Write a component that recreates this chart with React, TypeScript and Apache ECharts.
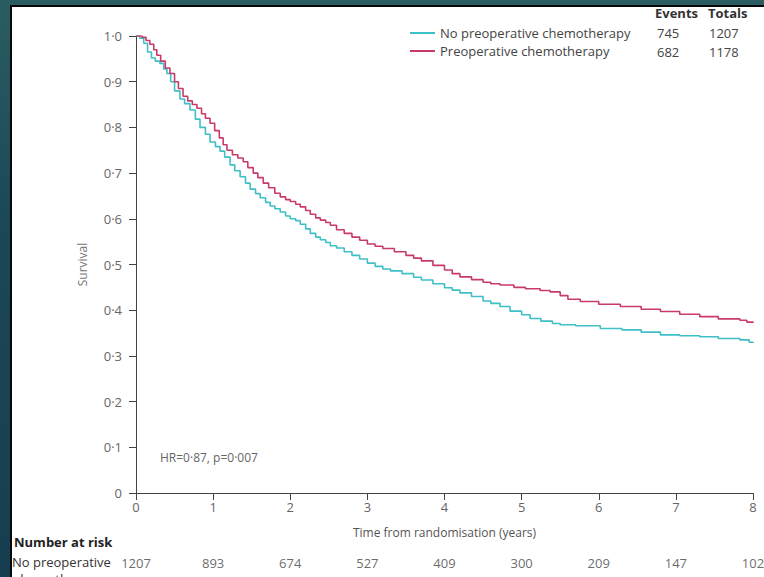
import React, { useEffect, useRef } from "react";
import * as echarts from "echarts";

const seriesNames = ["No preoperative chemotherapy", "Preoperative chemotherapy"];
const seriesColors = ["#3fbfc6", "#c93a6c"];
const eventsCol = ["745", "682"];
const totalsCol = ["1207", "1178"];

// Kaplan-Meier curves: [years, survival]
const noPreop: [number, number][] = [
  [0, 1.0], [0.05, 0.995], [0.1, 0.984], [0.15, 0.965], [0.2, 0.952], [0.25, 0.945], [0.31, 0.94],
  [0.36, 0.928], [0.4, 0.918], [0.45, 0.9], [0.5, 0.88], [0.57, 0.862], [0.63, 0.852], [0.7, 0.838],
  [0.77, 0.818], [0.83, 0.8], [0.9, 0.785], [0.96, 0.768], [1.03, 0.758], [1.09, 0.748], [1.15, 0.735],
  [1.22, 0.718], [1.28, 0.705], [1.35, 0.692], [1.42, 0.678], [1.48, 0.665], [1.55, 0.655], [1.61, 0.646],
  [1.68, 0.636], [1.74, 0.628], [1.8, 0.622], [1.87, 0.615], [1.94, 0.606], [2.0, 0.6], [2.07, 0.596],
  [2.13, 0.588], [2.2, 0.578], [2.26, 0.568], [2.33, 0.56], [2.39, 0.554], [2.46, 0.548], [2.52, 0.541],
  [2.6, 0.536], [2.7, 0.528], [2.8, 0.52], [2.9, 0.512], [3.0, 0.503], [3.1, 0.496], [3.2, 0.49],
  [3.3, 0.486], [3.45, 0.48], [3.6, 0.472], [3.7, 0.466], [3.85, 0.458], [4.0, 0.449], [4.1, 0.444],
  [4.2, 0.438], [4.35, 0.43], [4.5, 0.42], [4.6, 0.415], [4.72, 0.408], [4.85, 0.398], [5.0, 0.39],
  [5.11, 0.382], [5.25, 0.376], [5.4, 0.371], [5.5, 0.368], [5.7, 0.366], [6.02, 0.36], [6.3, 0.357],
  [6.55, 0.352], [6.8, 0.346], [7.05, 0.344], [7.31, 0.342], [7.55, 0.338], [7.83, 0.335], [7.95, 0.33],
  [8.0, 0.328],
];

const preop: [number, number][] = [
  [0, 1.0], [0.08, 0.997], [0.13, 0.99], [0.18, 0.982], [0.23, 0.97], [0.27, 0.958], [0.32, 0.945],
  [0.38, 0.93], [0.44, 0.918], [0.5, 0.9], [0.55, 0.885], [0.61, 0.868], [0.67, 0.858], [0.73, 0.85],
  [0.79, 0.842], [0.85, 0.83], [0.9, 0.82], [0.96, 0.809], [1.02, 0.793], [1.08, 0.777], [1.13, 0.762],
  [1.18, 0.75], [1.25, 0.74], [1.32, 0.733], [1.39, 0.725], [1.45, 0.712], [1.52, 0.7], [1.58, 0.69],
  [1.65, 0.678], [1.72, 0.668], [1.8, 0.656], [1.87, 0.648], [1.94, 0.642], [2.0, 0.638], [2.07, 0.632],
  [2.13, 0.626], [2.2, 0.618], [2.26, 0.61], [2.33, 0.602], [2.39, 0.597], [2.46, 0.592], [2.52, 0.586],
  [2.6, 0.576], [2.7, 0.568], [2.8, 0.56], [2.9, 0.553], [3.0, 0.545], [3.1, 0.54], [3.2, 0.535],
  [3.35, 0.528], [3.5, 0.52], [3.6, 0.514], [3.7, 0.508], [3.85, 0.498], [4.0, 0.488], [4.1, 0.48],
  [4.2, 0.473], [4.35, 0.467], [4.5, 0.461], [4.6, 0.458], [4.72, 0.455], [4.9, 0.45], [5.05, 0.447],
  [5.24, 0.443], [5.37, 0.44], [5.5, 0.432], [5.6, 0.424], [5.76, 0.419], [6.0, 0.413], [6.28, 0.408],
  [6.55, 0.402], [6.8, 0.397], [7.05, 0.391], [7.31, 0.386], [7.55, 0.381], [7.83, 0.378], [7.92, 0.374],
  [8.0, 0.372],
];

const riskYears = [0, 1, 2, 3, 4, 5, 6, 7, 8];
const riskNoPreop = [1207, 893, 674, 527, 409, 300, 209, 147, 102];

const FONT = "Open Sans";

export default function App() {
  const ref = useRef<HTMLDivElement>(null);

  useEffect(() => {
    if (!ref.current) return;
    const chart = echarts.init(ref.current, undefined, { renderer: "svg" });
    const fmt = (v: number) => (v === 0 ? "0" : v.toFixed(1).replace(".", "\u00b7"));
    chart.setOption({
      animation: false,
      textStyle: { fontFamily: FONT },
      legend: {
        orient: "vertical",
        left: 405,
        top: 20,
        itemWidth: 25,
        itemHeight: 2,
        itemGap: 2,
        icon: "rect",
        textStyle: { fontFamily: FONT, fontSize: 13, color: "#444", lineHeight: 16, padding: [0, 0, 0, 0] },
        data: seriesNames,
      },
      grid: [
        { left: 136, right: 11, top: 36, bottom: 84 },
        { left: 136, right: 11, top: 553, height: 20 },
      ],
      xAxis: [
        {
          type: "value",
          min: 0,
          max: 8,
          interval: 1,
          name: "Time from randomisation (years)",
          nameLocation: "middle",
          nameGap: 33,
          nameTextStyle: { fontFamily: FONT, fontSize: 12, color: "#555" },
          axisLine: { show: true, lineStyle: { color: "#444", width: 1 } },
          axisTick: { show: true, length: 7, lineStyle: { color: "#444" } },
          axisLabel: { margin: 7, fontFamily: FONT, fontSize: 13, color: "#666" },
          splitLine: { show: false },
        },
        { type: "value", gridIndex: 1, min: 0, max: 8, show: false },
      ],
      yAxis: [
        {
          type: "value",
          min: 0,
          max: 1,
          interval: 0.1,
          name: "Survival",
          nameLocation: "middle",
          nameGap: 48,
          nameTextStyle: { fontFamily: FONT, fontSize: 12, color: "#777" },
          axisLine: { show: true, lineStyle: { color: "#444", width: 1 } },
          axisTick: { show: true, length: 7, lineStyle: { color: "#444" } },
          axisLabel: { margin: 14, fontFamily: FONT, fontSize: 13, color: "#666", formatter: fmt },
          splitLine: { show: false },
        },
        { type: "category", gridIndex: 1, data: ["No preoperative chemotherapy"], show: false },
      ],
      series: [
        {
          name: seriesNames[0],
          type: "line",
          step: "end",
          showSymbol: false,
          data: noPreop,
          color: seriesColors[0],
          lineStyle: { width: 1.6, color: seriesColors[0] },
          z: 3,
        },
        {
          name: seriesNames[1],
          type: "line",
          step: "end",
          showSymbol: false,
          data: preop,
          color: seriesColors[1],
          lineStyle: { width: 1.6, color: seriesColors[1] },
          z: 4,
        },
        {
          name: "Number at risk",
          type: "scatter",
          xAxisIndex: 1,
          yAxisIndex: 1,
          symbolSize: 0,
          itemStyle: { color: "transparent" },
          silent: true,
          data: riskYears.map((t, i) => [t, 0, riskNoPreop[i]]),
          label: {
            show: true,
            position: "inside",
            fontFamily: FONT,
            fontSize: 13,
            color: "#444",
            formatter: (p: any) => String(p.value[2]),
          },
        },
      ],
      graphic: [
        { type: "text", left: 655, top: 6, style: { text: "Events", font: `bold 13px "${FONT}"`, fill: "#333" } },
        { type: "text", left: 708, top: 6, style: { text: "Totals", font: `bold 13px "${FONT}"`, fill: "#333" } },
        { type: "text", left: 657, top: 26, style: { text: eventsCol[0], font: `13px "${FONT}"`, fill: "#444" } },
        { type: "text", left: 657, top: 45, style: { text: eventsCol[1], font: `13px "${FONT}"`, fill: "#444" } },
        { type: "text", left: 709, top: 26, style: { text: totalsCol[0], font: `13px "${FONT}"`, fill: "#444" } },
        { type: "text", left: 709, top: 45, style: { text: totalsCol[1], font: `13px "${FONT}"`, fill: "#444" } },
        { type: "text", left: 160, top: 451, style: { text: "HR=0\u00b787, p=0\u00b7007", font: `12px "${FONT}"`, fill: "#666" } },
        { type: "text", left: 14, top: 535, style: { text: "Number at risk", font: `bold 13px "${FONT}"`, fill: "#222" } },
        { type: "text", left: 12, top: 555, style: { text: "No preoperative", font: `13px "${FONT}"`, fill: "#333" } },
        { type: "text", left: 14, top: 572, style: { text: "chemotherapy", font: `13px "${FONT}"`, fill: "#333" } },
      ],
    });
    return () => chart.dispose();
  }, []);

  return (
    <div
      style={{
        position: "fixed",
        left: 0,
        top: 0,
        width: 764,
        height: 577,
        overflow: "hidden",
        background: "linear-gradient(180deg, #2a5d61 0%, #1b4758 40%, #173e50 100%)",
      }}
    >
      <div
        style={{
          position: "absolute",
          left: 10,
          top: 5,
          width: 754,
          height: 572,
          boxSizing: "border-box",
          borderLeft: "2px solid #050708",
          borderTop: "2px solid #050708",
          background: "#ffffff",
        }}
      />
      <div ref={ref} style={{ position: "absolute", left: 0, top: 0, width: 764, height: 577 }} />
    </div>
  );
}
